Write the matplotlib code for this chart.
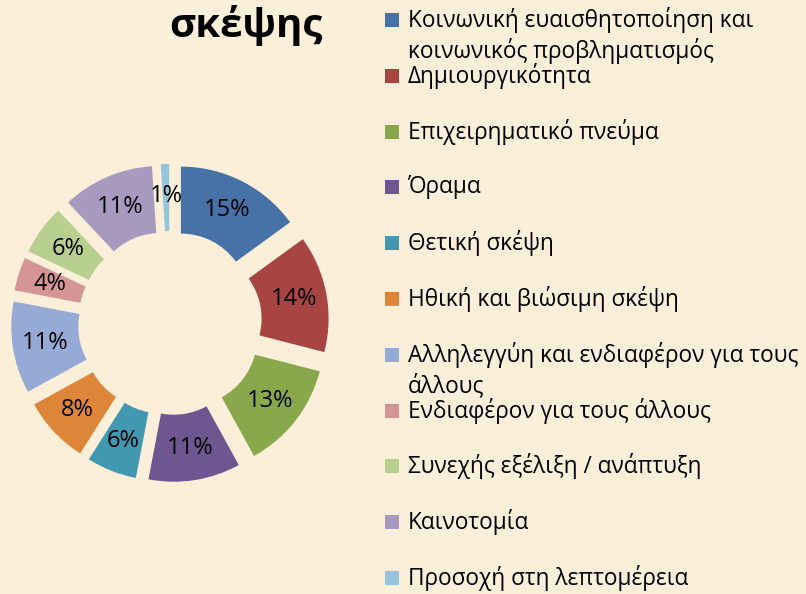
import matplotlib.pyplot as plt
from matplotlib.patches import Rectangle

plt.rcParams['font.family'] = ['Open Sans', 'DejaVu Sans']

labels = [
    'Κοινωνική ευαισθητοποίηση και\nκοινωνικός προβληματισμός',
    'Δημιουργικότητα',
    'Επιχειρηματικό πνεύμα',
    'Όραμα',
    'Θετική σκέψη',
    'Ηθική και βιώσιμη σκέψη',
    'Αλληλεγγύη και ενδιαφέρον για τους\nάλλους',
    'Ενδιαφέρον για τους άλλους',
    'Συνεχής εξέλιξη / ανάπτυξη',
    'Καινοτομία',
    'Προσοχή στη λεπτομέρεια',
]
values = [15, 14, 13, 11, 6, 8, 11, 4, 6, 11, 1]
colors = ['#4672A8', '#A84543', '#88A84B', '#6E5690', '#4298B0', '#DD8539',
          '#95ABD5', '#D59595', '#B8D08F', '#A899BF', '#93C6DA']
title = 'σκέψης'

bg = '#FBEFD9'
W, H = 806, 594
fig = plt.figure(figsize=(W / 100, H / 100), dpi=100, facecolor=bg)
ax = fig.add_axes([0, 0, 1, 1])
ax.set_aspect('equal')
ax.axis('off')
ax.set_facecolor(bg)

# donut, exploded slices, clockwise from 12 o'clock
R = 135
wedges, texts, autotexts = ax.pie(
    values, colors=colors, startangle=90, counterclock=False,
    explode=[24] * len(values), radius=R, center=(170, 271),
    autopct='%1.0f%%', pctdistance=0.76,
    wedgeprops=dict(width=67, linewidth=0),
    textprops=dict(fontsize=17, color='black'))
ax.set_xlim(0, W)
ax.set_ylim(0, H)

ax.text(246, 569, title, fontsize=29, fontweight='bold', ha='center', va='center')

# legend drawn by hand, Excel style
row0, step = 574, 55.8
for i, (lab, col) in enumerate(zip(labels, colors)):
    y = row0 - i * step
    ax.add_patch(Rectangle((385, y - 7), 14, 14, facecolor=col, edgecolor='none'))
    for k, line in enumerate(lab.split('\n')):
        ax.text(408, y - k * 31, line, fontsize=16.3, ha='left', va='center')

fig.savefig('out.png', dpi=100, facecolor=bg)
